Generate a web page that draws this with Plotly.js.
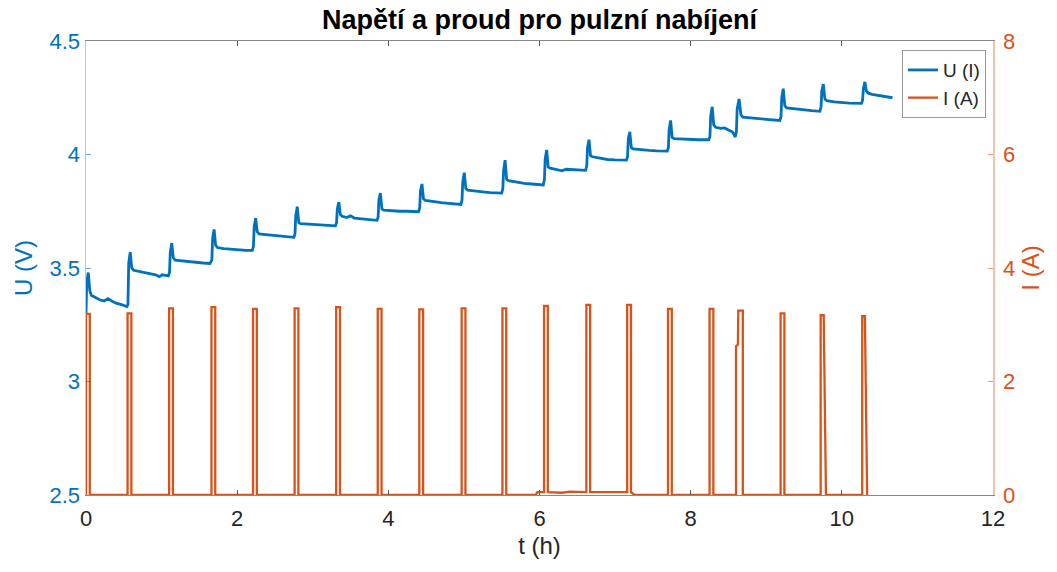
<!DOCTYPE html>
<html>
<head>
<meta charset="utf-8">
<script src="https://cdn.plot.ly/plotly-3.0.1.min.js"></script>
<style>
  html, body { margin: 0; padding: 0; background: #fff; }
  #chart { width: 1057px; height: 572px; }
</style>
</head>
<body>
<div id="chart"></div>
<script>
// Cell voltage during pulsed charging (left axis, V)
const uTime = [
  0.00, 0.01, 0.03, 0.05, 0.07, 0.12, 0.18, 0.24, 0.29, 0.34, 0.40, 0.46, 0.51, 0.54,
  0.555, 0.565, 0.585, 0.605, 0.63, 0.70, 0.78, 0.86, 0.92, 0.97, 1.01, 1.05, 1.09,
  1.105, 1.115, 1.135, 1.155, 1.18, 1.25, 1.35, 1.45, 1.55, 1.64,
  1.665, 1.675, 1.695, 1.715, 1.74, 1.82, 1.92, 2.02, 2.12, 2.20,
  2.215, 2.225, 2.245, 2.265, 2.29, 2.38, 2.48, 2.58, 2.68, 2.75,
  2.765, 2.775, 2.795, 2.815, 2.84, 2.95, 3.05, 3.15, 3.30,
  3.315, 3.325, 3.345, 3.365, 3.39, 3.45, 3.50, 3.55, 3.65, 3.75, 3.85,
  3.865, 3.875, 3.895, 3.915, 3.94, 4.05, 4.15, 4.25, 4.40,
  4.415, 4.425, 4.445, 4.465, 4.49, 4.60, 4.70, 4.80, 4.96,
  4.975, 4.985, 5.005, 5.025, 5.05, 5.15, 5.25, 5.35, 5.50,
  5.515, 5.525, 5.545, 5.565, 5.59, 5.70, 5.80, 5.90, 6.05,
  6.065, 6.075, 6.095, 6.115, 6.14, 6.22, 6.30, 6.35, 6.45, 6.61,
  6.625, 6.635, 6.655, 6.675, 6.70, 6.80, 6.90, 7.00, 7.15,
  7.165, 7.175, 7.195, 7.215, 7.24, 7.35, 7.45, 7.55, 7.69,
  7.705, 7.715, 7.735, 7.755, 7.78, 7.90, 8.00, 8.10, 8.24,
  8.255, 8.265, 8.285, 8.305, 8.33, 8.40, 8.45, 8.50, 8.55, 8.57, 8.59,
  8.605, 8.615, 8.64, 8.665, 8.69, 8.80, 8.90, 9.00, 9.10, 9.18,
  9.195, 9.205, 9.225, 9.245, 9.27, 9.38, 9.50, 9.60, 9.71,
  9.725, 9.735, 9.755, 9.775, 9.80, 9.90, 10.00, 10.10, 10.26,
  10.275, 10.285, 10.305, 10.325, 10.35, 10.40, 10.48, 10.56, 10.67
];
const uVolt = [
  3.30, 3.44, 3.48, 3.40, 3.38, 3.37, 3.36, 3.355, 3.365, 3.355, 3.345, 3.34, 3.335, 3.33,
  3.34, 3.52, 3.57, 3.50, 3.49, 3.485, 3.48, 3.475, 3.47, 3.462, 3.47, 3.468, 3.465,
  3.48, 3.57, 3.61, 3.545, 3.535, 3.532, 3.528, 3.525, 3.522, 3.52,
  3.535, 3.63, 3.67, 3.60, 3.59, 3.585, 3.582, 3.58, 3.578, 3.578,
  3.595, 3.68, 3.72, 3.66, 3.65, 3.647, 3.643, 3.64, 3.637, 3.635,
  3.65, 3.73, 3.77, 3.70, 3.695, 3.692, 3.69, 3.689, 3.686,
  3.70, 3.76, 3.79, 3.735, 3.728, 3.722, 3.73, 3.72, 3.717, 3.714, 3.71,
  3.725, 3.80, 3.83, 3.76, 3.755, 3.752, 3.75, 3.75, 3.748,
  3.765, 3.84, 3.87, 3.805, 3.798, 3.792, 3.788, 3.785, 3.78,
  3.80, 3.88, 3.92, 3.85, 3.843, 3.838, 3.835, 3.832, 3.83,
  3.85, 3.93, 3.975, 3.89, 3.885, 3.877, 3.873, 3.87, 3.866,
  3.89, 3.98, 4.02, 3.945, 3.94, 3.935, 3.928, 3.935, 3.932, 3.93,
  3.95, 4.03, 4.065, 3.995, 3.99, 3.983, 3.978, 3.976, 3.975,
  3.99, 4.07, 4.10, 4.03, 4.025, 4.02, 4.018, 4.016, 4.015,
  4.03, 4.11, 4.15, 4.075, 4.07, 4.067, 4.066, 4.065, 4.065,
  4.08, 4.17, 4.21, 4.13, 4.12, 4.115, 4.117, 4.108, 4.10, 4.09, 4.077,
  4.10, 4.20, 4.245, 4.175, 4.165, 4.16, 4.158, 4.155, 4.152, 4.15,
  4.165, 4.25, 4.29, 4.215, 4.205, 4.20, 4.196, 4.193, 4.19,
  4.21, 4.28, 4.31, 4.245, 4.237, 4.232, 4.228, 4.226, 4.225,
  4.24, 4.29, 4.32, 4.28, 4.27, 4.265, 4.26, 4.255, 4.25
];

// Charging current pulses (right axis, A)
const iTime = [
  0.00, 0.00, 0.05, 0.05, 0.55, 0.55, 0.60, 0.60,
  1.10, 1.10, 1.15, 1.15, 1.66, 1.66, 1.71, 1.71,
  2.21, 2.21, 2.26, 2.26, 2.76, 2.76, 2.81, 2.81,
  3.31, 3.31, 3.36, 3.36, 3.86, 3.86, 3.91, 3.91,
  4.41, 4.41, 4.46, 4.46, 4.97, 4.97, 5.02, 5.02,
  5.51, 5.51, 5.56, 5.56, 5.95, 5.97,
  6.06, 6.06, 6.11, 6.11, 6.30, 6.40,
  6.62, 6.62, 6.67, 6.67, 6.90,
  7.16, 7.16, 7.21, 7.21, 7.26,
  7.70, 7.70, 7.75, 7.75, 8.25, 8.25, 8.30, 8.30,
  8.60, 8.60, 8.625, 8.63, 8.69, 8.69,
  9.19, 9.19, 9.24, 9.24, 9.72, 9.72, 9.76, 9.79,
  10.27, 10.27, 10.305, 10.335
];
const iAmp = [
  0.00, 3.19, 3.19, 0.00, 0.00, 3.20, 3.20, 0.00,
  0.00, 3.29, 3.29, 0.00, 0.00, 3.31, 3.31, 0.00,
  0.00, 3.28, 3.28, 0.00, 0.00, 3.29, 3.29, 0.00,
  0.00, 3.31, 3.31, 0.00, 0.00, 3.28, 3.28, 0.00,
  0.00, 3.27, 3.27, 0.00, 0.00, 3.29, 3.29, 0.00,
  0.00, 3.29, 3.29, 0.00, 0.00, 0.05,
  0.05, 3.33, 3.33, 0.05, 0.04, 0.06,
  0.05, 3.35, 3.35, 0.05, 0.05,
  0.05, 3.35, 3.35, 0.05, 0.00,
  0.00, 3.28, 3.28, 0.00, 0.00, 3.28, 3.28, 0.00,
  0.00, 2.62, 2.65, 3.25, 3.25, 0.00,
  0.00, 3.20, 3.20, 0.00, 0.00, 3.17, 3.17, 0.00,
  0.00, 3.15, 3.15, 0.00
];

const blue = '#0072BD';
const orange = '#D95319';
const txt = '#262626';
const fam = 'Liberation Sans, Arial, Helvetica, sans-serif';

const traces = [
  {
    x: uTime, y: uVolt, name: 'U (I)', type: 'scatter', mode: 'lines',
    line: { color: blue, width: 2.8 }, yaxis: 'y'
  },
  {
    x: iTime, y: iAmp, name: 'I (A)', type: 'scatter', mode: 'lines',
    line: { color: orange, width: 2.3 }, yaxis: 'y2'
  }
];

const layout = {
  width: 1057, height: 572,
  margin: { l: 86, r: 64, t: 41, b: 77, pad: 0 },
  paper_bgcolor: '#fff', plot_bgcolor: '#fff',
  font: { family: fam, size: 22, color: txt },
  title: {
    text: '<b>Napětí a proud pro pulzní nabíjení</b>',
    font: { family: fam, size: 27, color: '#000' },
    x: 0.5, xref: 'paper', xanchor: 'center',
    y: 1 - 20 / 572, yref: 'container', yanchor: 'middle'
  },
  showlegend: true,
  legend: {
    x: 0.9923, xanchor: 'right', y: 0.98, yanchor: 'top',
    bgcolor: '#fff', bordercolor: '#999', borderwidth: 1,
    font: { family: fam, size: 19, color: txt },
    tracegroupgap: 0, itemwidth: 30
  },
  xaxis: {
    range: [0, 12], dtick: 2, tick0: 0,
    showgrid: false, zeroline: false,
    showline: true, linecolor: '#8a8a8a', linewidth: 1, mirror: 'ticks',
    ticks: 'inside', ticklen: 5, tickcolor: '#555', tickwidth: 1,
    ticklabelstandoff: 4,
    tickfont: { family: fam, size: 22, color: txt },
    title: { text: 't (h)', font: { family: fam, size: 24, color: txt }, standoff: 6 }
  },
  yaxis: {
    range: [2.5, 4.5], dtick: 0.5, tick0: 2.5,
    showgrid: false, zeroline: false,
    showline: true, linecolor: 'rgba(0,114,189,0.35)', linewidth: 1.5,
    ticks: 'inside', ticklen: 5, tickcolor: 'rgba(0,114,189,0.6)', tickwidth: 1,
    tickfont: { family: fam, size: 22, color: blue },
    title: { text: 'U (V)', font: { family: fam, size: 24, color: blue }, standoff: 10 }
  },
  yaxis2: {
    range: [0, 8], dtick: 2, tick0: 0,
    overlaying: 'y', side: 'right', anchor: 'x',
    showgrid: false, zeroline: false,
    showline: true, linecolor: 'rgba(217,83,25,0.35)', linewidth: 1.5,
    ticks: 'inside', ticklen: 5, tickcolor: 'rgba(217,83,25,0.6)', tickwidth: 1,
    ticklabelstandoff: 4,
    tickfont: { family: fam, size: 22, color: orange },
    title: { text: 'I (A)', font: { family: fam, size: 24, color: orange }, standoff: 8 }
  }
};

Plotly.newPlot('chart', traces, layout, { displayModeBar: false, staticPlot: true });
</script>
</body>
</html>
